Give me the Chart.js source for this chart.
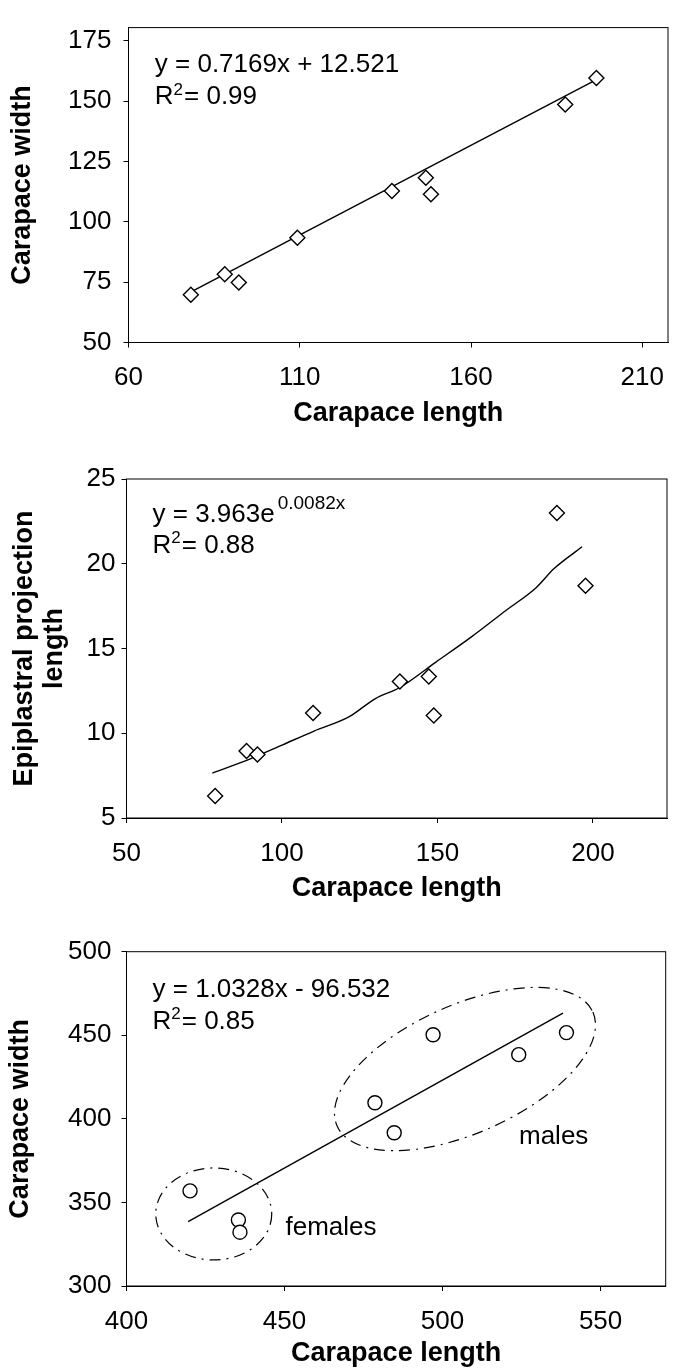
<!DOCTYPE html>
<html>
<head>
<meta charset="utf-8">
<script src="https://cdn.jsdelivr.net/npm/chart.js@4.4.1/dist/chart.umd.min.js"></script>
<style>
  body { margin: 0; background: #fff; }
  #wrap { position: relative; width: 680px; height: 1370px; }
  canvas { position: absolute; left: 0; }
</style>
</head>
<body>
<div id="wrap">
  <canvas id="c1" width="680" height="440" style="top:0px"></canvas>
  <canvas id="c2" width="680" height="470" style="top:440px"></canvas>
  <canvas id="c3" width="680" height="460" style="top:910px"></canvas>
</div>
<script>
// panel 1 - carapace width against carapace length
let xTicks1 = [60, 110, 160, 210];
let yTicks1 = [50, 75, 100, 125, 150, 175];
let length1 = [78.2, 88.1, 92.2, 109.3, 136.9, 146.8, 148.3, 187.5, 196.6];
let width1 = [69.8, 78.3, 74.8, 93.4, 112.7, 118.2, 111.4, 148.6, 159.5];
let fitX1 = [77, 195.5];
let fitY1 = [70, 158];

// panel 2 - epiplastral projection against carapace length
let xTicks2 = [50, 100, 150, 200];
let yTicks2 = [5, 10, 15, 20, 25];
let length2 = [78.5, 88.6, 92.1, 110, 137.9, 147.2, 148.8, 188.4, 197.6];
let epi2 = [6.3, 8.95, 8.75, 11.2, 13.05, 13.35, 11.05, 23.0, 18.7];
let fitX2 = [77.6, 90, 100, 110.3, 121.5, 129.9, 137.9, 149.5, 160.8, 172, 181.8, 187.4, 196.5];
let fitY2 = [7.65, 8.5, 9.3, 10.13, 10.96, 12.03, 12.7, 14.2, 15.67, 17.24, 18.6, 19.7, 21.0];

// panel 3 - females and males
let xTicks3 = [400, 450, 500, 550];
let yTicks3 = [300, 350, 400, 450, 500];
let length3 = [420.1, 435.4, 435.9, 478.6, 484.7, 497.0, 524.1, 539.2];
let width3 = [356.9, 339.5, 332.2, 409.6, 391.7, 450.3, 438.4, 451.6];
let fitX3 = [419.5, 538.1];
let fitY3 = [338.5, 463.2];

const FONT = '"Liberation Sans", Arial, sans-serif';

function pts(xs, ys) {
  return xs.map((x, i) => ({x: x, y: ys[i]}));
}

// frame, dash-dot ellipses and the equation texts
let notesPlugin = {
  id: 'notes',
  afterDatasetsDraw(chart, args, opts) {
    let ctx = chart.ctx, a = chart.chartArea;
    let sx = chart.scales.x, sy = chart.scales.y;
    ctx.save();
    ctx.strokeStyle = '#000';
    ctx.lineWidth = 1;
    ctx.strokeRect(a.left, a.top, a.right - a.left, a.bottom - a.top);
    (opts.ellipses || []).forEach(e => {
      ctx.beginPath();
      ctx.setLineDash([11, 6, 2, 6]);
      ctx.lineWidth = 1.2;
      ctx.ellipse(sx.getPixelForValue(e.cx), sy.getPixelForValue(e.cy), e.rx, e.ry, e.rot * Math.PI / 180, 0, Math.PI * 2);
      ctx.stroke();
    });
    ctx.setLineDash([]);
    ctx.fillStyle = '#000';
    ctx.textBaseline = 'middle';
    ctx.textAlign = 'left';
    (opts.items || []).forEach(it => {
      let x = a.left + it.dx, y = a.top + it.dy;
      it.runs.forEach(r => {
        ctx.font = (r.size || 26) + 'px ' + FONT;
        ctx.fillText(r.t, x, y - (r.up || 0));
        x += ctx.measureText(r.t).width + (r.gap || 0);
      });
    });
    ctx.restore();
  }
};

function makePanel(id, p) {
  return new Chart(document.getElementById(id).getContext('2d'), {
    type: 'scatter',
    data: {
      datasets: [{
        data: pts(p.fitX, p.fitY),
        showLine: true,
        borderColor: '#000',
        borderWidth: 1.4,
        pointRadius: 0,
        cubicInterpolationMode: p.smooth ? 'monotone' : 'default',
        tension: 0,
        order: 2
      }, {
        data: pts(p.xs, p.ys),
        showLine: false,
        pointStyle: p.marker,
        pointRadius: p.r,
        pointBackgroundColor: '#fff',
        pointBorderColor: '#000',
        pointBorderWidth: 1.4,
        order: 1
      }]
    },
    options: {
      responsive: false,
      animation: false,
      devicePixelRatio: 1,
      layout: { padding: p.pad },
      plugins: {
        legend: { display: false },
        tooltip: { enabled: false },
        notes: { items: p.notes, ellipses: p.ellipses || [] }
      },
      scales: {
        x: {
          type: 'linear',
          min: p.xMin,
          max: p.xMax,
          afterBuildTicks: s => { s.ticks = p.xTicks.map(v => ({value: v})); },
          afterFit: s => { s.height = p.xHeight; },
          grid: { drawOnChartArea: false, drawTicks: true, tickLength: 5, color: '#000' },
          border: { display: true, color: '#000', width: 1 },
          ticks: { color: '#000', font: { family: FONT, size: 26 }, padding: 15, maxRotation: 0, autoSkip: false },
          title: { display: true, text: 'Carapace length', color: '#000', font: { family: FONT, size: 27, weight: 'bold' }, padding: 0 }
        },
        y: {
          type: 'linear',
          min: p.yMin,
          max: p.yMax,
          afterBuildTicks: s => { s.ticks = p.yTicks.map(v => ({value: v})); },
          afterFit: s => { s.width = p.yWidth; },
          grid: { drawOnChartArea: false, drawTicks: true, tickLength: 5, color: '#000' },
          border: { display: true, color: '#000', width: 1 },
          ticks: { color: '#000', font: { family: FONT, size: 26 }, padding: p.yTickPad, autoSkip: false },
          title: {
            display: true,
            text: p.yTitle,
            color: '#000',
            font: { family: FONT, size: 27, weight: 'bold', lineHeight: 1.1 },
            padding: { top: p.yTitlePad, bottom: 0 }
          }
        }
      }
    },
    plugins: [notesPlugin]
  });
}

makePanel('c1', {
  xs: length1, ys: width1, fitX: fitX1, fitY: fitY1,
  marker: 'rectRot', r: 7.5,
  xMin: 60, xMax: 217.5, yMin: 50, yMax: 180.4,
  xTicks: xTicks1, yTicks: yTicks1,
  yTitle: 'Carapace width', yTitlePad: 8, yWidth: 128.5, yTickPad: 12, xHeight: 87,
  pad: { top: 9, right: 12, bottom: 10.5, left: 0 },
  notes: [
    { dx: 26.3, dy: 36.8, runs: [{ t: 'y = 0.7169x + 12.521' }] },
    { dx: 26.3, dy: 69.5, runs: [{ t: 'R' }, { t: '2', size: 17, up: 7, gap: 1 }, { t: '= 0.99' }] }
  ]
});

makePanel('c2', {
  xs: length2, ys: epi2, fitX: fitX2, fitY: fitY2, smooth: true,
  marker: 'rectRot', r: 7.5,
  xMin: 50, xMax: 223.8, yMin: 5, yMax: 25,
  xTicks: xTicks2, yTicks: yTicks2,
  yTitle: ['Epiplastral projection', 'length'], yTitlePad: 10, yWidth: 126.5, yTickPad: 6, xHeight: 87,
  pad: { top: 39, right: 13, bottom: 5, left: 0 },
  notes: [
    { dx: 26, dy: 36, runs: [{ t: 'y = 3.963e', gap: 3 }, { t: '0.0082x', size: 19, up: 11 }] },
    { dx: 26, dy: 66.7, runs: [{ t: 'R' }, { t: '2', size: 17, up: 7, gap: 1 }, { t: '= 0.88' }] }
  ]
});

makePanel('c3', {
  xs: length3, ys: width3, fitX: fitX3, fitY: fitY3,
  marker: 'circle', r: 7,
  xMin: 400, xMax: 570.6, yMin: 300, yMax: 500,
  xTicks: xTicks3, yTicks: yTicks3,
  yTitle: 'Carapace width', yTitlePad: 6, yWidth: 126.5, yTickPad: 10, xHeight: 84,
  pad: { top: 41.7, right: 14.3, bottom: 0, left: 0 },
  ellipses: [
    { cx: 507.1, cy: 429.8, rx: 140, ry: 64, rot: -24 },
    { cx: 427.6, cy: 343.1, rx: 58, ry: 46, rot: 0 }
  ],
  notes: [
    { dx: 26, dy: 38.3, runs: [{ t: 'y = 1.0328x - 96.532' }] },
    { dx: 26, dy: 70, runs: [{ t: 'R' }, { t: '2', size: 17, up: 7, gap: 1 }, { t: '= 0.85' }] },
    { dx: 392.5, dy: 185, runs: [{ t: 'males' }] },
    { dx: 159, dy: 276.3, runs: [{ t: 'females' }] }
  ]
});
</script>
</body>
</html>
